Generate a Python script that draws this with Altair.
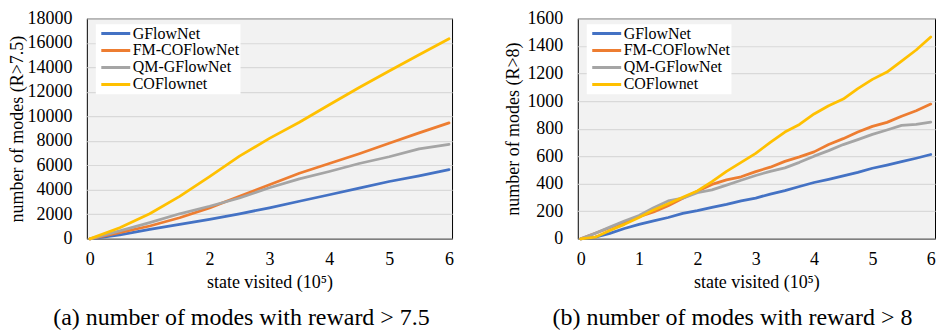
import altair as alt
import pandas as pd

series = ["GFlowNet", "FM-COFlowNet", "QM-GFlowNet", "COFlownet"]
colors = ["#4472C4", "#ED7D31", "#A5A5A5", "#FFC000"]

# panel (a): modes with reward > 7.5
x_a = [0, 0.5, 1, 1.5, 2, 2.5, 3, 3.5, 4, 4.5, 5, 5.5, 6]
a_gflownet = [0, 320, 780, 1185, 1590, 2045, 2530, 3070, 3600, 4140, 4680, 5140, 5650]
a_fm = [0, 510, 1050, 1720, 2530, 3470, 4410, 5350, 6150, 6950, 7800, 8650, 9470]
a_qm = [0, 645, 1320, 2045, 2660, 3335, 4170, 4900, 5500, 6150, 6700, 7350, 7720]
a_co = [0, 910, 2050, 3470, 5080, 6750, 8200, 9520, 10950, 12350, 13700, 15030, 16330]

# panel (b): modes with reward > 8
x_b = [0, 0.25, 0.5, 0.75, 1, 1.25, 1.5, 1.75, 2, 2.25, 2.5, 2.75, 3,
       3.25, 3.5, 3.75, 4, 4.25, 4.5, 4.75, 5, 5.25, 5.5, 5.75, 6]
b_gflownet = [0, 12, 40, 75, 105, 130, 155, 185, 205, 228, 250, 275, 296,
              325, 350, 380, 409, 432, 457, 482, 512, 535, 560, 585, 612]
b_fm = [0, 40, 80, 120, 160, 195, 240, 295, 345, 395, 428, 450, 488,
        520, 562, 595, 631, 685, 727, 775, 816, 845, 890, 930, 978]
b_qm = [0, 40, 85, 130, 170, 225, 275, 295, 335, 355, 390, 425, 460,
        490, 515, 555, 600, 640, 684, 720, 758, 790, 823, 830, 847]
b_co = [0, 12, 60, 105, 155, 210, 255, 302, 348, 415, 490, 555, 620,
        700, 775, 830, 906, 966, 1014, 1090, 1157, 1210, 1290, 1370, 1465]

x_ticks = [0, 1, 2, 3, 4, 5, 6]
ya_ticks = list(range(0, 18001, 2000))
yb_ticks = list(range(0, 1601, 200))

FONT = "Liberation Serif"


def long_df(xs, ys_list):
    rows = []
    for name, ys in zip(series, ys_list):
        for xv, yv in zip(xs, ys):
            rows.append({"x": xv, "v": yv, "series": name})
    return pd.DataFrame(rows)


def panel(xs, ys_list, yticks, ytitle, caption, title_pad, width, xmax, dx):
    df = long_df(xs, ys_list)
    return alt.Chart(df).mark_line(strokeWidth=2.75, strokeJoin="round", strokeCap="round").encode(
        x=alt.X("x:Q",
                scale=alt.Scale(domain=[-0.05, xmax], nice=False, zero=False),
                axis=alt.Axis(values=x_ticks, title="state visited (10⁵)", grid=False,
                              ticks=False, domain=True, domainColor="#7f7f7f", domainWidth=1.5,
                              labelPadding=12, titlePadding=5)),
        y=alt.Y("v:Q",
                scale=alt.Scale(domain=[yticks[0], yticks[-1]], nice=False),
                axis=alt.Axis(values=yticks, format="d", title=ytitle, grid=True,
                              gridColor="#d9d9d9", gridWidth=1.2, ticks=False, domain=False,
                              labelPadding=15, titlePadding=title_pad)),
        color=alt.Color("series:N", sort=series,
                        scale=alt.Scale(domain=series, range=colors),
                        legend=alt.Legend(orient="none", legendX=9, legendY=6, title=None,
                                          fillColor="white", padding=1, symbolOffset=3,
                                          symbolType="stroke", symbolSize=841,
                                          symbolStrokeWidth=3, labelFont=FONT,
                                          labelFontSize=16, labelColor="black",
                                          labelOffset=1, rowPadding=0, clipHeight=16.5,
                                          labelLimit=300)),
        order=alt.Order("series_order:Q"),
    ).transform_calculate(
        series_order="indexof(['GFlowNet','FM-COFlowNet','QM-GFlowNet','COFlownet'], datum.series)"
    ).properties(
        width=width, height=221,
        title=alt.TitleParams(caption, orient="bottom", font=FONT, fontSize=24,
                              fontWeight="normal", color="black", offset=14, dx=dx,
                              anchor="middle"),
    )


left = panel(x_a, [a_gflownet, a_fm, a_qm, a_co], ya_ticks,
             "number of modes (R>7.5)", "(a) number of modes with reward > 7.5", 0,
             366, 6.05, -28)
right = panel(x_b, [b_gflownet, b_fm, b_qm, b_co], yb_ticks,
              "number of modes (R>8)", "(b) number of modes with reward > 8", 4,
              358, 6.073, -24)

chart = alt.hconcat(left, right, spacing=50).resolve_legend(color="independent").properties(
    padding={"left": 0, "top": 0, "right": 0, "bottom": 0}
).configure_axis(
    labelFont=FONT, labelFontSize=18, labelColor="black",
    titleFont=FONT, titleFontSize=18, titleFontWeight="normal", titleColor="black",
).configure_view(
    fill="#f2f2f2", stroke="black", strokeWidth=1,
)

chart.save("out.html", embed_options={"renderer": "svg", "actions": False})
